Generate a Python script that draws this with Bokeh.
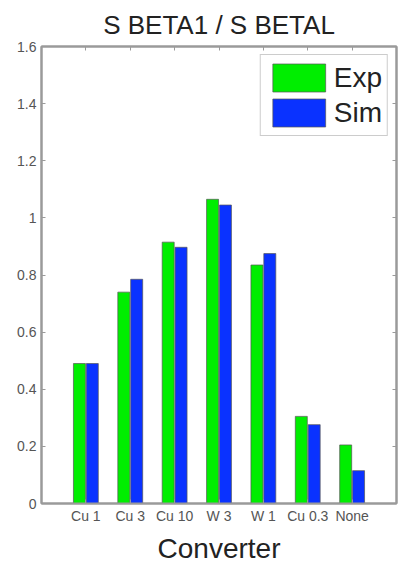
from bokeh.plotting import figure
from bokeh.models import ColumnDataSource, LinearAxis, FixedTicker, Range1d, Legend, LegendItem
from bokeh.embed import file_html
from bokeh.resources import INLINE

categories = ["Cu 1", "Cu 3", "Cu 10", "W 3", "W 1", "Cu 0.3", "None"]
exp_values = [0.49, 0.74, 0.915, 1.065, 0.835, 0.305, 0.205]
sim_values = [0.49, 0.785, 0.897, 1.045, 0.875, 0.276, 0.115]
y_ticks = [0, 0.2, 0.4, 0.6, 0.8, 1.0, 1.2, 1.4, 1.6]
y_tick_labels = ["0", "0.2", "0.4", "0.6", "0.8", "1", "1.2", "1.4", "1.6"]

FONT = "Liberation Sans"
positions = list(range(1, len(categories) + 1))
bar_w = 0.27
off = 0.145

src = ColumnDataSource(data=dict(
    x_exp=[x - off for x in positions],
    x_sim=[x + off for x in positions],
    exp=exp_values,
    sim=sim_values,
))

p = figure(width=403, height=566, output_backend="svg", toolbar_location=None,
           x_range=Range1d(0, len(categories) + 1), y_range=Range1d(0, 1.6),
           title="S BETA1 / S BETAL",
           min_border_left=41, min_border_right=7, min_border_top=46, min_border_bottom=10)

p.title.align = "center"
p.title.text_font = FONT
p.title.text_font_size = "26px"
p.title.text_font_style = "normal"
p.title.text_color = "#222222"
p.title.standoff = 14

p.xgrid.visible = False
p.ygrid.visible = False
p.outline_line_color = "#9a9a9a"
p.outline_line_width = 2
p.background_fill_color = "white"
p.border_fill_color = "white"

r_exp = p.vbar(x="x_exp", top="exp", width=bar_w, source=src, fill_color="#00ee00",
               line_color="#555555", line_width=1, line_alpha=0.7)
r_sim = p.vbar(x="x_sim", top="sim", width=bar_w, source=src, fill_color="#0a32ff",
               line_color="#555555", line_width=1, line_alpha=0.7)

def style(ax):
    ax.axis_line_color = "#9a9a9a"
    ax.axis_line_width = 2
    ax.major_tick_in = 4
    ax.major_tick_out = 0
    ax.minor_tick_line_color = None
    ax.major_tick_line_color = "#9a9a9a"
    ax.major_label_text_font = FONT
    ax.major_label_text_color = "#555555"
    ax.major_label_text_font_size = "14px"

xa = p.xaxis[0]
style(xa)
xa.ticker = FixedTicker(ticks=positions)
xa.major_label_overrides = {pos: lab for pos, lab in zip(positions, categories)}
xa.axis_label = "Converter"
xa.axis_label_text_font = FONT
xa.axis_label_text_font_size = "28px"
xa.axis_label_text_font_style = "normal"
xa.axis_label_text_color = "#222222"
xa.axis_label_standoff = 6
xa.major_label_standoff = 4

ya = p.yaxis[0]
style(ya)
ya.ticker = FixedTicker(ticks=y_ticks)
ya.major_label_overrides = {t: l for t, l in zip(y_ticks, y_tick_labels)}
ya.major_label_standoff = 5

top = LinearAxis(ticker=FixedTicker(ticks=positions))
style(top)
top.major_label_overrides = {pos: "" for pos in positions}
top.major_label_standoff = 0
p.add_layout(top, "above")

right = LinearAxis(ticker=FixedTicker(ticks=y_ticks))
style(right)
right.major_label_overrides = {t: "" for t in y_ticks}
right.major_label_standoff = 0
p.add_layout(right, "right")

legend = Legend(items=[LegendItem(label="Exp", renderers=[r_exp]),
                       LegendItem(label="Sim", renderers=[r_sim])],
                location="top_right")
legend.label_text_font = FONT
legend.label_text_font_size = "28px"
legend.label_text_color = "#222222"
legend.glyph_width = 66
legend.glyph_height = 35
legend.label_height = 35
legend.label_standoff = 2
legend.spacing = 0
legend.padding = 5
legend.margin = 8
legend.border_line_color = "#999999"
legend.border_line_width = 1.5
p.add_layout(legend)

open("out.html", "w").write(file_html(p, INLINE))
